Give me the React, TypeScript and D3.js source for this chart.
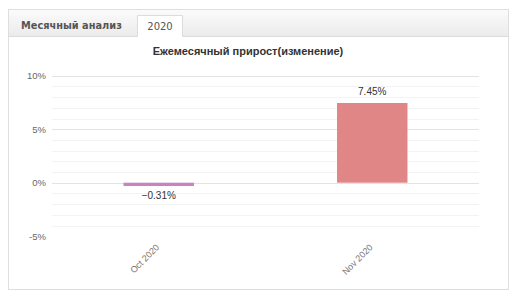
import React from "react";
import * as d3 from "d3";

const categories = ["Oct 2020", "Nov 2020"];
const values = [-0.31, 7.45];
const barColors = ["#c387bd", "#e08686"];
const yTicks = [-5, 0, 5, 10];
const tabTitle = "Месячный анализ";
const tabYear = "2020";
const chartTitle = "Ежемесячный прирост(изменение)";

export default function App() {
  const W = 513, H = 296;
  const left = 52, right = 479;
  const x = d3.scaleBand<string>().domain(categories).range([left, right]).paddingInner(0.67).paddingOuter(0.335);
  const y = d3.scaleLinear().domain([-5, 10]).range([236.2, 75.7]);
  const grid = d3.range(-4, 11);
  const fmtTick = (v: number) => `${v}%`;
  const fmtVal = (v: number) => (v < 0 ? "\u2212" : "") + Math.abs(v).toFixed(2) + "%";
  const font = "'Liberation Sans', Arial, sans-serif";
  return (
    <svg width={W} height={H} style={{ position: "absolute", left: 0, top: 0 }}>
      <defs>
        <linearGradient id="tabbar" x1="0" x2="0" y1="0" y2="1">
          <stop offset="0" stopColor="#fbfbfb" />
          <stop offset="1" stopColor="#ebebeb" />
        </linearGradient>
      </defs>
      <rect x={0} y={0} width={W} height={H} fill="#fff" />
      <rect x={8.5} y={9.5} width={500} height={280} fill="#fff" stroke="#dedede" />
      <rect x={9} y={10} width={499} height={26} fill="url(#tabbar)" />
      <line x1={9} x2={508} y1={36.5} y2={36.5} stroke="#dcdcdc" />
      <path d="M137.5,36.5 V15.5 H182.5 V36.5" fill="#fff" stroke="#dcdcdc" />
      <rect x={138} y={16} width={44} height={21} fill="#fff" />
      <text x={21} y={29} fontFamily="'DejaVu Sans', Verdana, sans-serif" fontSize={9.8} fontWeight="bold" fill="#555">{tabTitle}</text>
      <text x={160} y={30} textAnchor="middle" fontFamily="'DejaVu Sans', Verdana, sans-serif" fontSize={10} fill="#555">{tabYear}</text>
      <text x={248} y={55} textAnchor="middle" fontFamily={font} fontSize={11} fontWeight="bold" fill="#333">{chartTitle}</text>
      {grid.map((g) => (
        <line key={g} x1={left} x2={right} y1={Math.round(y(g)) + 0.5} y2={Math.round(y(g)) + 0.5}
          stroke={g % 5 === 0 ? "#e3e3e3" : "#f3f3f3"} />
      ))}
      {yTicks.map((t) => (
        <text key={t} x={46} y={y(t) + 3.5} textAnchor="end" fontFamily={font} fontSize={9.5} fill="#666">{fmtTick(t)}</text>
      ))}
      {categories.map((c, i) => {
        const v = values[i];
        const y0 = y(0), y1 = y(v);
        return (
          <g key={c}>
            <rect x={x(c)} y={Math.min(y0, y1)} width={x.bandwidth()} height={Math.abs(y1 - y0)} fill={barColors[i]} />
            <text x={x(c)! + x.bandwidth() / 2} y={v >= 0 ? y1 - 8 : y1 + 13} textAnchor="middle" fontFamily={font} fontSize={10} fill="#333">{fmtVal(v)}</text>
            <text transform={`translate(${x(c)! + x.bandwidth() / 2 + 1},${248}) rotate(-45)`} textAnchor="end" fontFamily={font} fontSize={9} fill="#777">{c}</text>
          </g>
        );
      })}
    </svg>
  );
}
